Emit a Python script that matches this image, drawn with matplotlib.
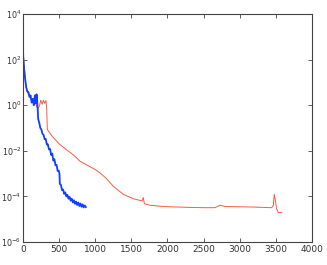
import matplotlib
matplotlib.use("Agg")
import matplotlib.pyplot as plt
from matplotlib.ticker import FixedLocator, FixedFormatter

blue_iter = [0, 15, 30, 45, 60, 75, 90, 105, 120, 135, 150, 165, 180, 188, 195, 205,
             210, 225, 240, 255, 270, 285, 300, 315, 330, 345, 360, 375, 390, 405,
             420, 435, 450, 465, 480, 495, 505, 510, 525, 540, 555, 570, 585, 600,
             615, 630, 645, 660, 675, 690, 705, 720, 735, 750, 765, 780, 795, 810,
             825, 840, 855, 870]
blue_val = [160, 40, 14, 6.0, 4.0, 3.8, 2.3, 2.7, 1.3, 1.9, 1.0, 2.7, 1.2, 3.0, 1.7, 0.6,
            0.25, 0.17, 0.1, 0.085, 0.055, 0.05, 0.032, 0.033, 0.019, 0.019, 0.0115,
            0.012, 0.0066, 0.0076, 0.0037, 0.0043, 0.0023, 0.0024, 0.0013, 0.00135, 0.001,
            3.5e-4, 3.2e-4, 1.9e-4, 2.0e-4, 1.3e-4, 1.5e-4, 1.0e-4, 1.17e-4, 7.9e-5, 9.5e-5,
            6.5e-5, 7.9e-5, 5.4e-5, 6.8e-5, 4.7e-5, 5.9e-5, 4.2e-5, 5.4e-5, 3.8e-5, 4.9e-5,
            3.5e-5, 4.5e-5, 3.3e-5, 4.0e-5, 3.4e-5]

red_iter = [0, 10, 20, 35, 50, 70, 90, 110, 130, 150, 170, 190, 212, 230, 245, 265, 281,
            300, 318, 328, 337, 345, 400, 500, 605, 700, 789, 1000, 1066, 1150, 1250, 1388,
            1527, 1650, 1665, 1680, 1758, 1900, 2035, 2300, 2495, 2657, 2727, 2800, 3003,
            3200, 3442, 3465, 3478, 3490, 3512, 3534, 3581]
red_val = [630, 126, 40, 10, 5, 3.2, 2.5, 2.0, 1.8, 1.4, 1.6, 0.85, 0.72, 1.0, 1.65, 1.1,
           1.65, 1.2, 1.6, 0.72, 0.085, 0.08, 0.045, 0.02, 0.011, 0.0065, 0.0035, 0.0015,
           1.07e-3, 6.3e-4, 2.8e-4, 1.23e-4, 7.9e-5, 6.3e-5, 8.9e-5, 4.8e-5, 4.1e-5, 3.7e-5,
           3.5e-5, 3.3e-5, 3.2e-5, 3.2e-5, 4.1e-5, 3.6e-5, 3.5e-5, 3.4e-5, 3.2e-5, 4.0e-5,
           1.23e-4, 7.9e-5, 2.8e-5, 1.95e-5, 1.95e-5]

y_ticks = [1e-6, 1e-4, 1e-2, 1e0, 1e2, 1e4]
y_labels = [r'$10^{-6}$', r'$10^{-4}$', r'$10^{-2}$', r'$10^{0}$', r'$10^{2}$', r'$10^{4}$']
x_ticks = [0, 500, 1000, 1500, 2000, 2500, 3000, 3500, 4000]

fig = plt.figure(figsize=(3.27, 2.65), dpi=100)
ax = fig.add_axes([0.0703, 0.0868, 0.8837, 0.8604])
ax.plot(red_iter, red_val, color='#ff5a3c', lw=0.7)
ax.plot(blue_iter, blue_val, color='#1040ff', lw=1.3)
ax.set_yscale('log')
ax.set_xlim(0, 4000)
ax.set_ylim(1e-6, 1e4)
ax.yaxis.set_major_locator(FixedLocator(y_ticks))
ax.yaxis.set_major_formatter(FixedFormatter(y_labels))
ax.yaxis.set_minor_locator(FixedLocator([]))
ax.set_xticks(x_ticks)
ax.tick_params(direction='in', length=3, width=0.6, colors='#444444', labelsize=6.5,
               top=True, right=True, pad=2, labelcolor='#333333')
ax.tick_params(axis='y', labelsize=5.8, pad=1)
for s in ax.spines.values():
    s.set_color('#444444')
    s.set_linewidth(0.8)
fig.savefig('out.png', dpi=100)
